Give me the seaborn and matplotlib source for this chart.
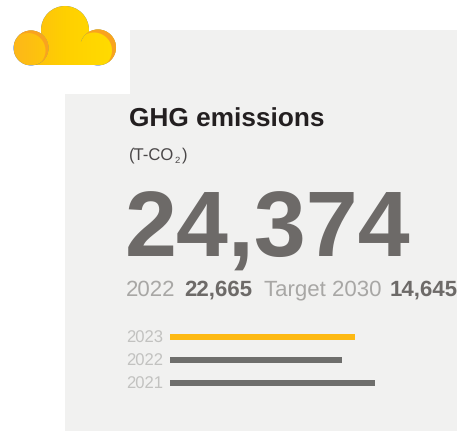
import numpy as np
import pandas as pd
import matplotlib
matplotlib.use("Agg")
import matplotlib.pyplot as plt
from matplotlib.patches import Circle, Polygon, Rectangle
from matplotlib.colors import LinearSegmentedColormap
import seaborn as sns

years = ["2023", "2022", "2021"]
emissions = [24374, 22665, 27000]
bar_colors = ["#fdb913", "#6e6e6c", "#6e6e6c"]
title = "GHG emissions"
unit = "(T-CO"
headline = "24,374"
prev_year_label = "2022"
prev_value = "22,665"
target_label = "Target 2030"
target_value = "14,645"

W, H = 457, 431
sns.set_theme(style="white")
plt.rcParams["font.family"] = ["Liberation Sans", "DejaVu Sans"]
plt.rcParams["text.hinting"] = "no_hinting"
fig = plt.figure(figsize=((W + 0.01) / 100, (H + 0.01) / 100), dpi=100, facecolor="white")

# overlay in pixel coordinates
bg = fig.add_axes([0, 0, 1, 1])
bg.set_xlim(0, W)
bg.set_ylim(H, 0)
bg.axis("off")
panel = "#f1f1f0"
bg.add_patch(Polygon([(130, 30), (W, 30), (W, H), (65, H), (65, 94), (130, 94)],
                     closed=True, fc=panel, ec="none"))

# cloud icon
cm = LinearSegmentedColormap.from_list("c", ["#fdb71a", "#ffd000", "#ffdc00"])
grad = np.linspace(0, 1, 256).reshape(1, -1)
def fill(patch):
    bg.add_patch(patch)
    im = bg.imshow(grad, extent=(14, 116, 65.5, 6), cmap=cm, aspect="auto", zorder=patch.get_zorder())
    im.set_clip_path(patch)
def crescent(c1, c2, r, z):
    c1, c2 = np.array(c1, float), np.array(c2, float)
    v = c1 - c2
    dist = np.hypot(*v)
    d = np.arctan2(v[1], v[0])
    s = np.arcsin(dist / (2 * r))
    a, b = np.pi / 2 + s, np.pi / 2 - s
    t1 = np.linspace(d - a, d + a, 80)
    t2 = np.linspace(d + b, d - b, 80)
    pts = np.vstack([c1 + r * np.c_[np.cos(t1), np.sin(t1)],
                     c2 + r * np.c_[np.cos(t2), np.sin(t2)]])
    bg.add_patch(Polygon(pts, closed=True, fc="#f9a31f", ec="none", zorder=z))
fill(Circle((65, 30), 24, ec="none", zorder=2))
fill(Circle((98, 47.5), 18, ec="none", zorder=3))
fill(Rectangle((30, 42), 68, 23.5, ec="none", zorder=3))
crescent((98, 47.5), (94, 50.5), 18, 3.5)
fill(Circle((31, 48), 17.5, ec="none", zorder=4))
crescent((31, 48), (28, 50.5), 17.5, 5)
bg.set_xlim(0, W)
bg.set_ylim(H, 0)

dark = "#231f20"
grey = "#a8a7a5"
big = "#6d6a68"
bg.text(129, 127, title, fontsize=18.9, fontweight="bold", color=dark, va="baseline")
bg.text(129, 159, unit, fontsize=12, color="#4a4748", va="baseline")
bg.text(175, 163, "2", fontsize=6.8, color="#4a4748", va="baseline")
bg.text(181.5, 159, ")", fontsize=12, color="#4a4748", va="baseline")
bg.text(125, 257, headline, fontsize=67.2, fontweight="bold", color=big, va="baseline")
bg.text(126, 295.5, prev_year_label, fontsize=16, color=grey, va="baseline")
bg.text(184, 295.5, prev_value, fontsize=16, fontweight="bold", color=big, va="baseline")
bg.text(264, 295.5, target_label, fontsize=16, color=grey, va="baseline")
bg.text(390, 295.5, target_value, fontsize=16, fontweight="bold", color=big, va="baseline")

# bars
x0, x1 = 170, W
top, bottom = 325.5, 394.5
ax = fig.add_axes([x0 / W, 1 - bottom / H, (x1 - x0) / W, (bottom - top) / H])
df = pd.DataFrame({"year": years, "emissions": emissions})
sns.barplot(data=df, y="year", x="emissions", hue="year", order=years, hue_order=years,
            palette=bar_colors, width=0.26, legend=False, ax=ax, saturation=1,
            linewidth=0, edgecolor="none")
ax.set_xlim(0, (x1 - x0) / (185 / 24374))
ax.set_ylim(2.5, -0.5)
ax.set_xlabel("")
ax.set_ylabel("")
ax.set_xticks([])
ax.patch.set_alpha(0)
sns.despine(ax=ax, left=True, bottom=True)
ax.tick_params(axis="y", length=0, pad=5.2, labelsize=12, labelcolor="#c2c2c0")
for lab in ax.get_yticklabels():
    lab.set_va("center_baseline")

fig.savefig("out.png", dpi=100, facecolor="white")
